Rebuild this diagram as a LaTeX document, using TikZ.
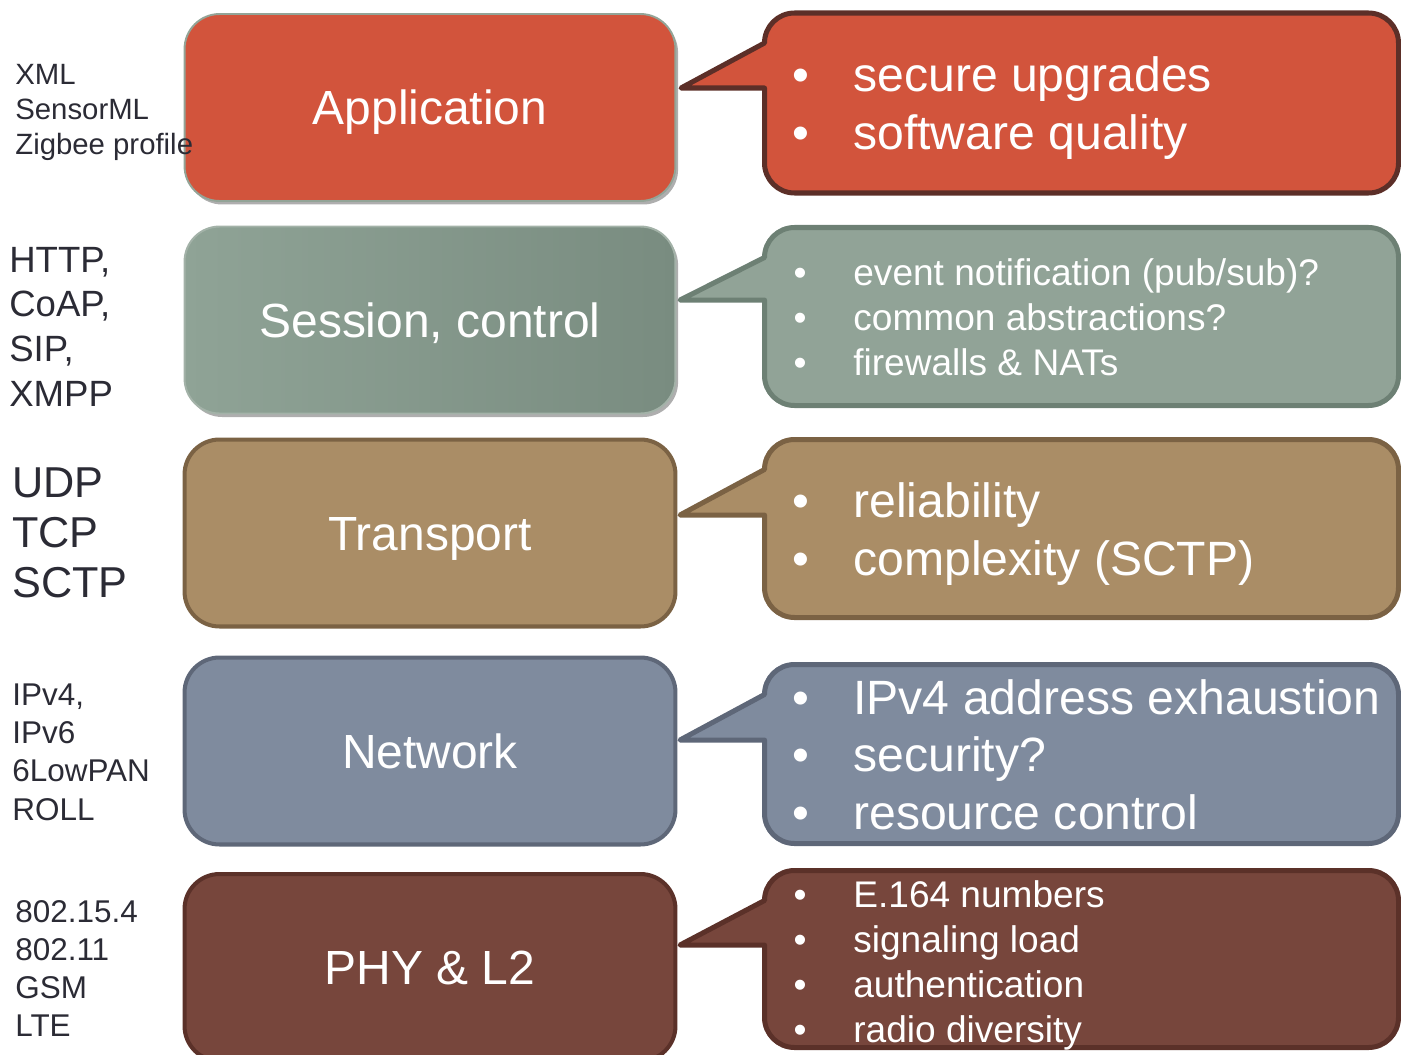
\documentclass[tikz,border=0pt]{standalone}
\usepackage{fontspec}
\setmainfont{Liberation Sans}
\usetikzlibrary{shadows}
\definecolor{appRed}{RGB}{210,84,60}
\definecolor{appEdge}{RGB}{147,164,151}
\definecolor{appBrown}{RGB}{92,47,40}
\definecolor{sesLeft}{RGB}{143,163,150}
\definecolor{sesRight}{RGB}{121,140,128}
\definecolor{sesFill}{RGB}{145,163,151}
\definecolor{sesEdge}{RGB}{163,178,168}
\definecolor{sesDark}{RGB}{109,128,116}
\definecolor{traFill}{RGB}{170,141,102}
\definecolor{traDark}{RGB}{123,98,68}
\definecolor{netFill}{RGB}{127,139,158}
\definecolor{netDark}{RGB}{94,103,120}
\definecolor{phyFill}{RGB}{119,70,60}
\definecolor{phyDark}{RGB}{91,49,41}
\definecolor{protoText}{RGB}{43,43,53}

\begin{document}
\begin{tikzpicture}[x=0.02cm, y=-0.02cm,
		layer/.style={rounded corners=0.7cm, minimum width=9.82cm, minimum height=3.74cm, text=white, font=\fontsize{27.3}{32}\selectfont, text height=19.4pt, text depth=0pt},
		softshadow/.style={drop shadow={shadow xshift=1.5pt, shadow yshift=-2pt, fill=black!70, opacity=0.45}},
		bubble/.style={line width=2.85pt, line join=round},
		proto/.style={anchor=base west, inner sep=0pt, text=protoText},
		bigitem/.style={inner sep=0pt, text=white, font=\fontsize{27.4}{33}\selectfont},
		smallitem/.style={inner sep=0pt, text=white, font=\fontsize{21.1}{25}\selectfont}]
		\useasboundingbox (0,0) rectangle (1401,1055);
		\clip (0,0) rectangle (1401,1055);
		
		% Layers
		\node[layer, draw=appEdge, line width=1.1pt, fill=appRed, softshadow] (application) at (430,107.5) {Application};
		\node[layer, draw=sesEdge, line width=1.1pt, left color=sesLeft, right color=sesRight, softshadow] (session) at (430,320) {Session, control};
		\node[layer, draw=traDark, line width=2.3pt, fill=traFill] (transport) at (430,533) {Transport};
		\node[layer, draw=netDark, line width=2.3pt, fill=netFill] (network) at (430,751) {Network};
		\node[layer, draw=phyDark, line width=2.3pt, fill=phyFill] (phy) at (430,967.5) {PHY \& L2};
		
		% Protocols
		\foreach \t [count=\i from 0] in {XML, SensorML, Zigbee profile}
			\node[proto, font=\fontsize{16.7}{20}\selectfont] (app-p\i) at (15,84+35*\i) {\t};
		\foreach \t [count=\i from 0] in {{HTTP,}, {CoAP,}, {SIP,}, XMPP}
			\node[proto, font=\fontsize{20.8}{24}\selectfont] (ses-p\i) at (9,272+44.7*\i) {\t};
		\foreach \t [count=\i from 0] in {UDP, TCP, SCTP}
			\node[proto, font=\fontsize{24.6}{28}\selectfont] (tra-p\i) at (12,497+50*\i) {\t};
		\foreach \t [count=\i from 0] in {{IPv4,}, IPv6, 6LowPAN, ROLL}
			\node[proto, font=\fontsize{17.9}{21}\selectfont] (net-p\i) at (12,705+38.4*\i) {\t};
		\foreach \t [count=\i from 0] in {802.15.4, 802.11, GSM, LTE}
			\node[proto, font=\fontsize{17.9}{21}\selectfont] (phy-p\i) at (15,922+38.3*\i) {\t};
		
		% Callouts
		\draw[bubble, draw=appBrown, fill=appRed] (681,88) -- (764.5,43) [rounded corners=0.6cm] -- (764.5,13) -- (1398.5,13) -- (1398.5,193) -- (764.5,193) [sharp corners] -- (764.5,88) -- cycle;
		\draw[bubble, draw=sesDark, fill=sesFill] (680,300) -- (764.5,257.5) [rounded corners=0.6cm] -- (764.5,227.5) -- (1398.5,227.5) -- (1398.5,405.5) -- (764.5,405.5) [sharp corners] -- (764.5,300) -- cycle;
		\draw[bubble, draw=traDark, fill=traFill] (680,515) -- (764.5,469.5) [rounded corners=0.6cm] -- (764.5,439.5) -- (1398.5,439.5) -- (1398.5,617.5) -- (764.5,617.5) [sharp corners] -- (764.5,515) -- cycle;
		\draw[bubble, draw=netDark, fill=netFill] (680,740) -- (764.5,694.5) [rounded corners=0.6cm] -- (764.5,664.5) -- (1398.5,664.5) -- (1398.5,843.5) -- (764.5,843.5) [sharp corners] -- (764.5,740) -- cycle;
		\draw[bubble, draw=phyDark, fill=phyFill] (680,945) -- (764.5,900.5) [rounded corners=0.6cm] -- (764.5,870.5) -- (1398.5,870.5) -- (1398.5,1047.5) -- (764.5,1047.5) [sharp corners] -- (764.5,945) -- cycle;
		
		% Issues
		\foreach \t [count=\i from 0] in {secure upgrades, software quality} {
			\node[bigitem, anchor=base] (app-b\i) at (801,91+58*\i) {\textbullet};
			\node[bigitem, anchor=base west] (app-t\i) at (853,91+58*\i) {\t};
		}
		\foreach \t [count=\i from 0] in {event notification (pub/sub)?, common abstractions?, firewalls \& NATs} {
			\node[smallitem, anchor=base] (ses-b\i) at (800,285+45*\i) {\textbullet};
			\node[smallitem, anchor=base west] (ses-t\i) at (853,285+45*\i) {\t};
		}
		\foreach \t [count=\i from 0] in {reliability, complexity (SCTP)} {
			\node[bigitem, anchor=base] (tra-b\i) at (801,517+58*\i) {\textbullet};
			\node[bigitem, anchor=base west] (tra-t\i) at (853,517+58*\i) {\t};
		}
		\foreach \t [count=\i from 0] in {IPv4 address exhaustion, security?, resource control} {
			\node[bigitem, anchor=base] (net-b\i) at (801,714+57.5*\i) {\textbullet};
			\node[bigitem, anchor=base west] (net-t\i) at (853,714+57.5*\i) {\t};
		}
		\foreach \t [count=\i from 0] in {E.164 numbers, signaling load, authentication, radio diversity} {
			\node[smallitem, anchor=base] (phy-b\i) at (800,907+45*\i) {\textbullet};
			\node[smallitem, anchor=base west] (phy-t\i) at (853,907+45*\i) {\t};
		}
	\end{tikzpicture}
\end{document}
